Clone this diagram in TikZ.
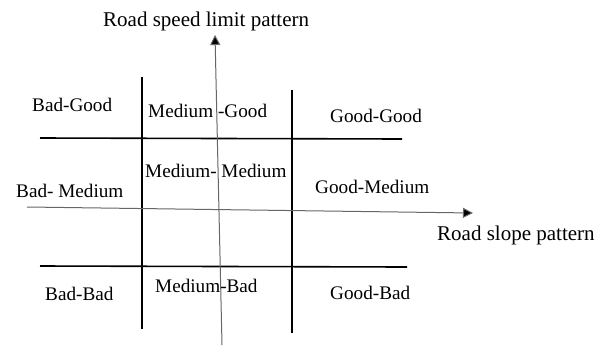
\documentclass[tikz,border=0pt]{standalone}
\usepackage{fontspec}
\setmainfont{Liberation Serif}
\usetikzlibrary{arrows.meta}
\begin{document}
\begin{tikzpicture}[x=1pt,y=-1pt,
  gridline/.style={line width=1.6pt,black},
  axisline/.style={line width=1pt,black!60,-{Triangle[length=10pt,width=10pt,fill=black]}},
  cell/.style={anchor=base west,inner sep=0pt,font=\fontsize{19.2}{22}\selectfont},
  axislabel/.style={anchor=base west,inner sep=0pt,font=\fontsize{21}{24}\selectfont}]
\useasboundingbox (0,0) rectangle (609,346);
% grid
\coordinate (lvT) at (142,77);  \coordinate (lvB) at (142,329);
\coordinate (rvT) at (292,90);  \coordinate (rvB) at (292,333);
\coordinate (thL) at (40,138);  \coordinate (thR) at (402,139);
\coordinate (bhL) at (40,266);  \coordinate (bhR) at (407,267);
\draw[gridline] (lvT) -- (lvB);
\draw[gridline] (rvT) -- (rvB);
\draw[gridline] (thL) -- (thR);
\draw[gridline] (bhL) -- (bhR);
% axes
\coordinate (vaB) at (222,345); \coordinate (vaT) at (215,35);
\coordinate (haL) at (27,207);  \coordinate (haR) at (473,213);
\draw[axisline] (vaB) -- (vaT);
\draw[axisline] (haL) -- (haR);
% labels
\node[axislabel] (ylab) at (103,26) {Road speed limit pattern};
\node[axislabel] (xlab) at (437,240) {Road slope pattern};
\node[cell] (bg) at (32,111) {Bad-Good};
\node[cell] (mg) at (148,117) {Medium -Good};
\node[cell] (gg) at (330,122) {Good-Good};
\node[cell] (bm) at (16,197) {Bad- Medium};
\node[cell] (mm) at (145,177) {Medium- Medium};
\node[cell] (gm) at (315,193) {Good-Medium};
\node[cell] (bb) at (45,300) {Bad-Bad};
\node[cell] (mb) at (155,292) {Medium-Bad};
\node[cell] (gb) at (330,299) {Good-Bad};
\end{tikzpicture}
\end{document}
